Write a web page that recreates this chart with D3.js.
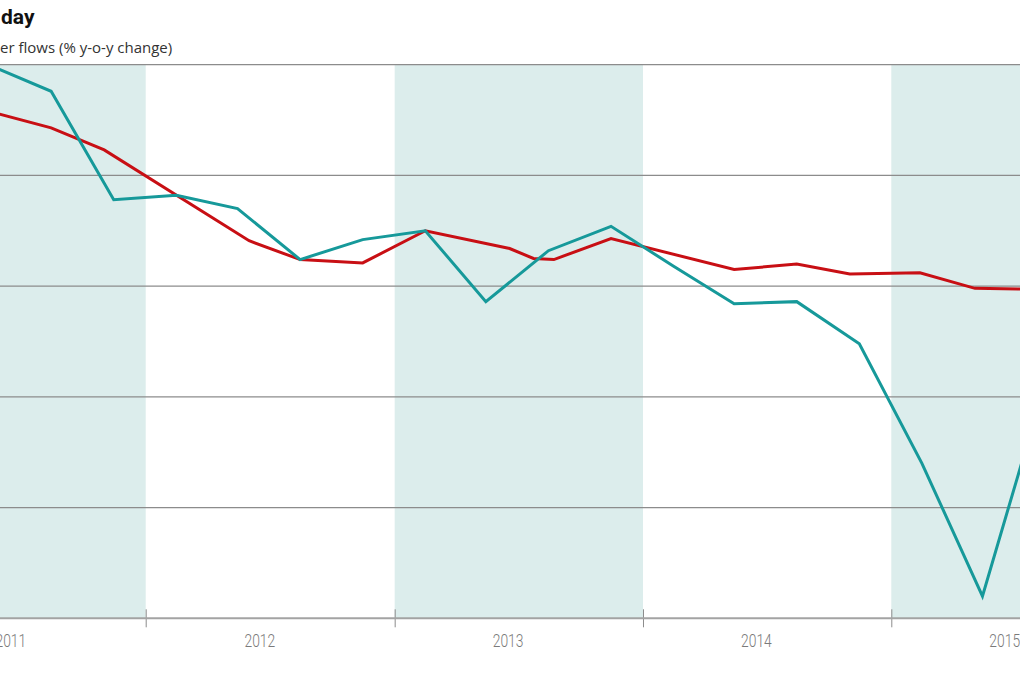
<!DOCTYPE html>
<html>
<head>
<meta charset="utf-8">
<script src="https://cdn.jsdelivr.net/npm/d3@7"></script>
<style>
  body { margin: 0; background: #fff; }
  svg { display: block; }
</style>
</head>
<body>
<main></main>
<script>
// Data (quarterly-ish points)
const years = [2011, 2012, 2013, 2014, 2015];
const shadedYears = [2011, 2013, 2015];
const gridValues = [20, 15, 10, 5, 0];
const yBottom = -5;

const tealDates = ["2011-05-15", "2011-08-15", "2011-11-15", "2012-02-15", "2012-05-15", "2012-08-15",
  "2012-11-15", "2013-02-15", "2013-05-15", "2013-08-15", "2013-11-15", "2014-02-15", "2014-05-15",
  "2014-08-15", "2014-11-15", "2015-02-15", "2015-05-15", "2015-08-15"];
const tealValues = [20.0, 18.8, 13.9, 14.1, 13.5, 11.2, 12.1, 12.5, 9.3, 11.6, 12.7, 10.9, 9.2,
  9.3, 7.4, 2.0, -4.0, 5.6];

const redDates = ["2011-05-15", "2011-08-15", "2011-11-01", "2012-06-01", "2012-08-15", "2012-11-15",
  "2013-02-15", "2013-06-19", "2013-07-24", "2013-08-23", "2013-11-15", "2014-05-15", "2014-08-15",
  "2014-11-01", "2015-02-12", "2015-05-04", "2015-08-15"];
const redValues = [17.9, 17.15, 16.15, 12.05, 11.2, 11.05, 12.5, 11.7, 11.25, 11.2, 12.15, 10.75, 11.0,
  10.55, 10.6, 9.9, 9.85];

const title = "day";
const subtitle = "er flows (% y-o-y change)";

// Dimensions
let dimensions = {
  width: 1020,
  height: 680,
  margin: { top: 64.7, right: 0, bottom: 61.7, left: 0 },
};
dimensions.boundedWidth = dimensions.width - dimensions.margin.left - dimensions.margin.right;
dimensions.boundedHeight = dimensions.height - dimensions.margin.top - dimensions.margin.bottom;

const parseDate = d3.timeParse("%Y-%m-%d");
const teal = tealDates.map((d, i) => ({ date: parseDate(d), value: tealValues[i] }));
const red = redDates.map((d, i) => ({ date: parseDate(d), value: redValues[i] }));

// Canvas
const svg = d3.select("main")
  .append("svg")
    .attr("width", dimensions.width)
    .attr("height", dimensions.height);

svg.append("text")
  .attr("x", 1)
  .attr("y", 24)
  .attr("font-family", "Roboto, sans-serif")
  .attr("font-weight", 700)
  .attr("font-size", 21)
  .attr("fill", "#111")
  .text(title);

svg.append("text")
  .attr("x", 0)
  .attr("y", 53)
  .attr("font-family", "'Open Sans', sans-serif")
  .attr("font-size", 15)
  .attr("fill", "#333")
  .text(subtitle);

const graph = svg.append("g")
  .attr("transform", `translate(${dimensions.margin.left}, ${dimensions.margin.top})`);

// Scales: one year is ~248.5px, Jan 1 2012 sits at x=145.7
const xScale = d3.scaleTime()
  .domain([new Date(2012, 0, 1), new Date(2015, 0, 1)])
  .range([145.7, 891.3]);

const yScale = d3.scaleLinear()
  .domain([yBottom, gridValues[0]])
  .range([dimensions.boundedHeight, 0]);

// Shaded years
graph.selectAll("rect.band")
  .data(shadedYears)
  .enter()
  .append("rect")
  .attr("class", "band")
  .attr("x", d => Math.max(0, xScale(new Date(d, 0, 1))))
  .attr("width", d => Math.min(dimensions.boundedWidth, xScale(new Date(d + 1, 0, 1))) - Math.max(0, xScale(new Date(d, 0, 1))))
  .attr("y", 0)
  .attr("height", dimensions.boundedHeight)
  .attr("fill", "#dcedec");

// Gridlines
graph.selectAll("line.grid")
  .data(gridValues)
  .enter()
  .append("line")
  .attr("class", "grid")
  .attr("x1", 0)
  .attr("x2", dimensions.boundedWidth)
  .attr("y1", d => yScale(d))
  .attr("y2", d => yScale(d))
  .attr("stroke", "#8c8c8c")
  .attr("stroke-width", 1.3);

// Lines
graph.append("clipPath")
  .attr("id", "clip")
  .append("rect")
  .attr("x", 0)
  .attr("y", -10)
  .attr("width", dimensions.boundedWidth)
  .attr("height", dimensions.boundedHeight + 20);

const lineGenerator = d3.line()
  .x(d => xScale(d.date))
  .y(d => yScale(d.value));

graph.append("path")
  .datum(red)
  .attr("clip-path", "url(#clip)")
  .attr("d", lineGenerator)
  .attr("fill", "none")
  .attr("stroke", "#c80f14")
  .attr("stroke-width", 3);

graph.append("path")
  .datum(teal)
  .attr("clip-path", "url(#clip)")
  .attr("d", lineGenerator)
  .attr("fill", "none")
  .attr("stroke", "#16999a")
  .attr("stroke-width", 3);

// Bottom axis: year boundary ticks
const tickAxis = graph.append("g")
  .attr("transform", `translate(0, ${dimensions.boundedHeight})`)
  .call(d3.axisBottom(xScale)
    .tickValues(years.slice(1).map(y => new Date(y, 0, 1)))
    .tickSize(9)
    .tickFormat(""));
tickAxis.select(".domain").remove();
tickAxis.selectAll(".tick line")
  .attr("y1", -9)
  .attr("stroke", "#8c8c8c")
  .attr("stroke-width", 1);

graph.append("line")
  .attr("x1", 0)
  .attr("x2", dimensions.boundedWidth)
  .attr("y1", dimensions.boundedHeight)
  .attr("y2", dimensions.boundedHeight)
  .attr("stroke", "#a3a3a3")
  .attr("stroke-width", 2);

// Year labels (narrow light face, squeezed horizontally)
const labelAxis = graph.append("g")
  .attr("transform", `translate(0, ${dimensions.boundedHeight})`)
  .call(d3.axisBottom(xScale)
    .tickValues(years.map(y => new Date(y, 5, 16)))
    .tickSize(0)
    .tickPadding(15.5)
    .tickFormat(d3.timeFormat("%Y")));
labelAxis.select(".domain").remove();
labelAxis.selectAll("text")
  .attr("font-family", "Roboto, sans-serif")
  .attr("font-weight", 300)
  .attr("font-size", 18)
  .attr("transform", "scale(0.77, 1)")
  .attr("fill", "#7a7a7a");
</script>
</body>
</html>
